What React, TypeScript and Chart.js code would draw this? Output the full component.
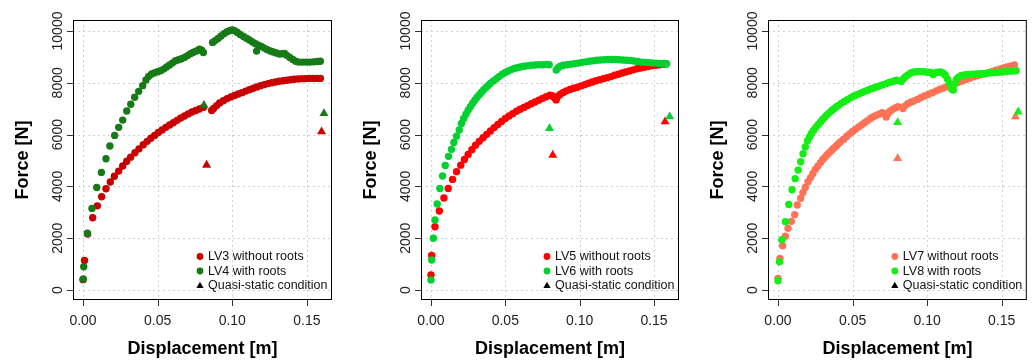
import React, { useEffect, useRef } from 'react';
import { Chart, registerables } from 'chart.js';

Chart.register(...registerables);

type P = [number, number];

const xTicks = [0, 0.05, 0.1, 0.15];
const xTickLabels = ['0.00', '0.05', '0.10', '0.15'];
const yTicks = [0, 2000, 4000, 6000, 8000, 10000];
const yTickLabels = ['0', '2000', '4000', '6000', '8000', '10000'];
const xTitle = 'Displacement [m]';
const yTitle = 'Force [N]';
const quasiLabel = 'Quasi-static condition';

const lv3: P[] = [
  [0.0000, 400], [0.0010, 1140], [0.0031, 2160], [0.0065, 2790], [0.0096, 3250], [0.0125, 3600],
  [0.0154, 3910], [0.0183, 4170], [0.0210, 4390], [0.0239, 4590], [0.0266, 4790], [0.0293, 4970],
  [0.0319, 5130], [0.0348, 5300], [0.0375, 5450], [0.0404, 5610], [0.0430, 5740], [0.0455, 5860],
  [0.0480, 5970], [0.0505, 6080], [0.0530, 6180], [0.0555, 6280], [0.0580, 6370], [0.0605, 6460],
  [0.0630, 6550], [0.0655, 6640], [0.0680, 6720], [0.0705, 6800], [0.0730, 6870], [0.0755, 6930],
  [0.0780, 6990], [0.0806, 7050], [0.0862, 6930], [0.0875, 7010], [0.0895, 7120], [0.0915, 7220],
  [0.0940, 7310], [0.0965, 7390], [0.0990, 7450], [0.1015, 7510], [0.1040, 7570], [0.1065, 7620],
  [0.1090, 7680], [0.1115, 7730], [0.1140, 7790], [0.1165, 7840], [0.1190, 7890], [0.1215, 7930],
  [0.1240, 7970], [0.1265, 8000], [0.1290, 8030], [0.1315, 8060], [0.1340, 8080], [0.1365, 8100],
  [0.1390, 8120], [0.1415, 8140], [0.1440, 8150], [0.1465, 8160], [0.1490, 8160], [0.1515, 8170],
  [0.1540, 8170], [0.1565, 8170], [0.1590, 8170],
];

const lv4: P[] = [
  [0.0002, 425], [0.0005, 900], [0.0029, 2190], [0.0060, 3150], [0.0092, 3960], [0.0123, 4540],
  [0.0154, 5070], [0.0180, 5560], [0.0212, 5970], [0.0239, 6280], [0.0266, 6560], [0.0293, 6910],
  [0.0320, 7170], [0.0346, 7440], [0.0373, 7670], [0.0400, 7890], [0.0422, 8110], [0.0440, 8250],
  [0.0460, 8340], [0.0480, 8390], [0.0500, 8430], [0.0520, 8470], [0.0540, 8530], [0.0560, 8610],
  [0.0580, 8690], [0.0600, 8770], [0.0620, 8850], [0.0640, 8890], [0.0660, 8930], [0.0680, 8980],
  [0.0700, 9050], [0.0720, 9120], [0.0740, 9180], [0.0760, 9230], [0.0780, 9300], [0.0795, 9260],
  [0.0806, 9170], [0.0868, 9560], [0.0885, 9630], [0.0905, 9710], [0.0925, 9810], [0.0945, 9900],
  [0.0965, 9970], [0.0985, 10020], [0.1000, 10040], [0.1015, 10010], [0.1035, 9940], [0.1055, 9860],
  [0.1075, 9790], [0.1095, 9720], [0.1115, 9650], [0.1135, 9580], [0.1155, 9510], [0.1163, 9225],
  [0.1175, 9450], [0.1195, 9400], [0.1215, 9340], [0.1235, 9280], [0.1255, 9230], [0.1275, 9190],
  [0.1295, 9150], [0.1315, 9110], [0.1335, 9120], [0.1350, 9130], [0.1365, 9060], [0.1385, 8980],
  [0.1405, 8900], [0.1425, 8830], [0.1445, 8800], [0.1470, 8800], [0.1495, 8800], [0.1520, 8800],
  [0.1545, 8810], [0.1570, 8820], [0.1590, 8830],
];

const lv5: P[] = [
  [0.0000, 580], [0.0005, 1330], [0.0027, 2440], [0.0056, 3050], [0.0087, 3550], [0.0116, 3920],
  [0.0145, 4270], [0.0172, 4570], [0.0200, 4820], [0.0225, 5040], [0.0250, 5230], [0.0275, 5420],
  [0.0300, 5590], [0.0325, 5740], [0.0350, 5880], [0.0375, 6010], [0.0400, 6140], [0.0425, 6270],
  [0.0450, 6390], [0.0475, 6510], [0.0500, 6620], [0.0525, 6720], [0.0550, 6810], [0.0575, 6900],
  [0.0600, 6980], [0.0625, 7050], [0.0650, 7120], [0.0675, 7190], [0.0700, 7260], [0.0725, 7330],
  [0.0750, 7400], [0.0775, 7460], [0.0800, 7520], [0.0815, 7500], [0.0830, 7420], [0.0842, 7340],
  [0.0855, 7480], [0.0870, 7560], [0.0890, 7630], [0.0910, 7690], [0.0935, 7740], [0.0960, 7790],
  [0.0985, 7830], [0.1010, 7880], [0.1035, 7930], [0.1060, 7980], [0.1085, 8030], [0.1110, 8080],
  [0.1135, 8120], [0.1160, 8160], [0.1185, 8200], [0.1210, 8240], [0.1235, 8290], [0.1260, 8330],
  [0.1285, 8380], [0.1310, 8420], [0.1335, 8460], [0.1360, 8500], [0.1385, 8540], [0.1410, 8570],
  [0.1435, 8600], [0.1460, 8630], [0.1485, 8660], [0.1510, 8680], [0.1535, 8700], [0.1560, 8720],
  [0.1580, 8730],
];

const lv6: P[] = [
  [0.0000, 390], [0.0005, 1160], [0.0016, 2000], [0.0027, 2700], [0.0042, 3320], [0.0060, 3920],
  [0.0078, 4400], [0.0096, 4810], [0.0118, 5160], [0.0138, 5430], [0.0154, 5700], [0.0172, 5940],
  [0.0190, 6180], [0.0205, 6430], [0.0220, 6620], [0.0235, 6790], [0.0250, 6940], [0.0265, 7080],
  [0.0280, 7210], [0.0295, 7330], [0.0310, 7440], [0.0325, 7540], [0.0340, 7640], [0.0355, 7730],
  [0.0370, 7820], [0.0385, 7900], [0.0400, 7980], [0.0420, 8070], [0.0440, 8160], [0.0460, 8250],
  [0.0480, 8330], [0.0500, 8400], [0.0520, 8460], [0.0540, 8510], [0.0560, 8550], [0.0580, 8580],
  [0.0600, 8610], [0.0625, 8640], [0.0650, 8660], [0.0675, 8680], [0.0700, 8690], [0.0725, 8700],
  [0.0750, 8700], [0.0775, 8710], [0.0795, 8700], [0.0842, 8490], [0.0855, 8580], [0.0870, 8640],
  [0.0890, 8680], [0.0915, 8700], [0.0940, 8720], [0.0965, 8740], [0.0990, 8760], [0.1015, 8790],
  [0.1040, 8810], [0.1065, 8830], [0.1090, 8850], [0.1115, 8870], [0.1140, 8880], [0.1165, 8890],
  [0.1190, 8900], [0.1215, 8900], [0.1240, 8900], [0.1265, 8890], [0.1290, 8880], [0.1315, 8870],
  [0.1340, 8860], [0.1365, 8840], [0.1390, 8820], [0.1415, 8800], [0.1440, 8790], [0.1465, 8780],
  [0.1490, 8770], [0.1515, 8760], [0.1540, 8750], [0.1565, 8750], [0.1585, 8740],
];

const lv7: P[] = [
  [0.0000, 450], [0.0013, 1220], [0.0031, 1710], [0.0049, 2080], [0.0067, 2380], [0.0089, 2650],
  [0.0112, 2910], [0.0129, 3280], [0.0152, 3540], [0.0167, 3760], [0.0183, 3960], [0.0201, 4180],
  [0.0218, 4340], [0.0234, 4500], [0.0250, 4650], [0.0268, 4790], [0.0285, 4920], [0.0300, 5040],
  [0.0315, 5130], [0.0330, 5220], [0.0345, 5310], [0.0360, 5400], [0.0375, 5480], [0.0390, 5560],
  [0.0405, 5650], [0.0420, 5730], [0.0440, 5820], [0.0460, 5930], [0.0480, 6030], [0.0500, 6120],
  [0.0520, 6210], [0.0540, 6290], [0.0560, 6370], [0.0580, 6460], [0.0600, 6540], [0.0620, 6620],
  [0.0640, 6690], [0.0660, 6750], [0.0680, 6800], [0.0700, 6850], [0.0715, 6800], [0.0725, 6680],
  [0.0735, 6800], [0.0750, 6900], [0.0770, 6980], [0.0790, 7040], [0.0804, 7080], [0.0837, 7010],
  [0.0850, 7100], [0.0870, 7190], [0.0890, 7250], [0.0910, 7300], [0.0935, 7360], [0.0960, 7430],
  [0.0985, 7500], [0.1010, 7560], [0.1035, 7620], [0.1060, 7690], [0.1085, 7750], [0.1110, 7800],
  [0.1135, 7850], [0.1160, 7910], [0.1185, 7960], [0.1210, 8020], [0.1235, 8070], [0.1260, 8130],
  [0.1285, 8180], [0.1310, 8230], [0.1335, 8270], [0.1360, 8310], [0.1385, 8340], [0.1410, 8390],
  [0.1435, 8440], [0.1460, 8490], [0.1485, 8530], [0.1510, 8570], [0.1535, 8610], [0.1560, 8650],
  [0.1585, 8690],
];

const lv8: P[] = [
  [0.0000, 360], [0.0010, 1090], [0.0026, 1940], [0.0050, 2640], [0.0072, 3300], [0.0094, 3870],
  [0.0115, 4300], [0.0135, 4630], [0.0152, 4950], [0.0168, 5260], [0.0183, 5520], [0.0198, 5760],
  [0.0212, 5920], [0.0226, 6060], [0.0240, 6180], [0.0255, 6290], [0.0270, 6390], [0.0285, 6490],
  [0.0300, 6590], [0.0315, 6680], [0.0330, 6770], [0.0345, 6850], [0.0360, 6930], [0.0375, 7000],
  [0.0390, 7070], [0.0405, 7130], [0.0425, 7210], [0.0445, 7280], [0.0465, 7350], [0.0485, 7420],
  [0.0505, 7480], [0.0525, 7530], [0.0545, 7580], [0.0565, 7630], [0.0585, 7680], [0.0605, 7720],
  [0.0625, 7770], [0.0645, 7810], [0.0665, 7850], [0.0685, 7890], [0.0705, 7930], [0.0725, 7970],
  [0.0745, 8010], [0.0765, 8040], [0.0785, 8080], [0.0795, 8100], [0.0826, 8050], [0.0840, 8150],
  [0.0855, 8240], [0.0870, 8300], [0.0890, 8380], [0.0910, 8420], [0.0930, 8430], [0.0950, 8430],
  [0.0970, 8430], [0.0990, 8420], [0.1010, 8410], [0.1025, 8400], [0.1040, 8320], [0.1055, 8380],
  [0.1070, 8410], [0.1090, 8420], [0.1105, 8380], [0.1120, 8300], [0.1135, 8150], [0.1150, 7980],
  [0.1165, 7750], [0.1175, 7720], [0.1185, 7950], [0.1195, 8130], [0.1210, 8220], [0.1230, 8280],
  [0.1255, 8310], [0.1280, 8320], [0.1305, 8330], [0.1330, 8340], [0.1355, 8350], [0.1380, 8360],
  [0.1405, 8370], [0.1430, 8390], [0.1455, 8400], [0.1480, 8410], [0.1505, 8420], [0.1530, 8440],
  [0.1555, 8450], [0.1580, 8460], [0.1596, 8470],
];

const quasiLV3: P[] = [[0.0828, 4825], [0.1598, 6110]];
const quasiLV4: P[] = [[0.0810, 7140], [0.1614, 6820]];
const quasiLV5: P[] = [[0.0819, 5210], [0.1574, 6500]];
const quasiLV6: P[] = [[0.0797, 6240], [0.1605, 6690]];
const quasiLV7: P[] = [[0.0802, 5080], [0.1592, 6690]];
const quasiLV8: P[] = [[0.0802, 6470], [0.1610, 6880]];

const panels = [
  {
    left: 0, padL: 73, padR: 12,
    noRoots: lv3, roots: lv4, qNo: quasiLV3, qRoots: quasiLV4,
    labelNo: 'LV3 without roots', labelRoots: 'LV4 with roots',
    colNo: '#C80000', colRoots: '#167A16',
  },
  {
    left: 344, padL: 77, padR: 9,
    noRoots: lv5, roots: lv6, qNo: quasiLV5, qRoots: quasiLV6,
    labelNo: 'LV5 without roots', labelRoots: 'LV6 with roots',
    colNo: '#FF0000', colRoots: '#00D030',
  },
  {
    left: 688, padL: 80, padR: 5,
    noRoots: lv7, roots: lv8, qNo: quasiLV7, qRoots: quasiLV8,
    labelNo: 'LV7 without roots', labelRoots: 'LV8 with roots',
    colNo: '#FF7256', colRoots: '#14EE14',
  },
];

const FONT = '"Liberation Sans", Arial, Helvetica, sans-serif';
const W = 344;
const H = 362;

const toXY = (arr: P[]) => arr.map(([x, y]) => ({ x, y }));

function makePlugin(p: typeof panels[number]) {
  return {
    id: 'rStyle',
    beforeDatasetsDraw(chart: any) {
      const { ctx, chartArea: a, scales } = chart;
      const x = scales.x;
      const y = scales.y;
      ctx.save();
      ctx.strokeStyle = '#d0d0d0';
      ctx.lineWidth = 1;
      ctx.setLineDash([2, 3]);
      xTicks.forEach((v) => {
        const px = Math.round(x.getPixelForValue(v)) + 0.5;
        ctx.beginPath();
        ctx.moveTo(px, a.top);
        ctx.lineTo(px, a.bottom);
        ctx.stroke();
      });
      yTicks.forEach((v) => {
        const py = Math.round(y.getPixelForValue(v)) + 0.5;
        ctx.beginPath();
        ctx.moveTo(a.left, py);
        ctx.lineTo(a.right, py);
        ctx.stroke();
      });
      ctx.restore();
    },
    afterDatasetsDraw(chart: any) {
      const { ctx, chartArea: a, scales } = chart;
      const x = scales.x;
      const y = scales.y;
      ctx.save();
      // box
      ctx.strokeStyle = '#000';
      ctx.lineWidth = 1;
      ctx.setLineDash([]);
      ctx.strokeRect(a.left + 0.5, a.top + 0.5, a.right - a.left - 1, a.bottom - a.top - 1);
      // ticks
      ctx.strokeStyle = '#333';
      xTicks.forEach((v) => {
        const px = Math.round(x.getPixelForValue(v)) + 0.5;
        ctx.beginPath();
        ctx.moveTo(px, a.bottom);
        ctx.lineTo(px, a.bottom + 6);
        ctx.stroke();
      });
      yTicks.forEach((v) => {
        const py = Math.round(y.getPixelForValue(v)) + 0.5;
        ctx.beginPath();
        ctx.moveTo(a.left - 6, py);
        ctx.lineTo(a.left, py);
        ctx.stroke();
      });
      // tick labels
      ctx.fillStyle = '#222';
      ctx.font = `14px ${FONT}`;
      ctx.textAlign = 'center';
      ctx.textBaseline = 'alphabetic';
      xTicks.forEach((v, i) => {
        ctx.fillText(xTickLabels[i], x.getPixelForValue(v), a.bottom + 25);
      });
      yTicks.forEach((v, i) => {
        ctx.save();
        ctx.translate(a.left - 11, y.getPixelForValue(v));
        ctx.rotate(-Math.PI / 2);
        ctx.fillText(yTickLabels[i], 0, 0);
        ctx.restore();
      });
      // titles
      ctx.fillStyle = '#000';
      ctx.font = `bold 18px ${FONT}`;
      ctx.fillText(xTitle, (a.left + a.right) / 2, a.bottom + 54);
      ctx.save();
      ctx.translate(a.left - 45, (a.top + a.bottom) / 2);
      ctx.rotate(-Math.PI / 2);
      ctx.fillText(yTitle, 0, 0);
      ctx.restore();
      // legend
      const mx = a.right - 132;
      const tx = a.right - 124;
      const rows = [a.bottom - 43.5, a.bottom - 29, a.bottom - 14.5];
      ctx.font = `12.5px ${FONT}`;
      ctx.textAlign = 'left';
      ctx.textBaseline = 'middle';
      ctx.fillStyle = p.colNo;
      ctx.beginPath();
      ctx.arc(mx, rows[0], 3.4, 0, Math.PI * 2);
      ctx.fill();
      ctx.fillStyle = p.colRoots;
      ctx.beginPath();
      ctx.arc(mx, rows[1], 3.4, 0, Math.PI * 2);
      ctx.fill();
      ctx.fillStyle = '#000';
      ctx.beginPath();
      ctx.moveTo(mx, rows[2] - 3.8);
      ctx.lineTo(mx + 3.6, rows[2] + 2.6);
      ctx.lineTo(mx - 3.6, rows[2] + 2.6);
      ctx.closePath();
      ctx.fill();
      ctx.fillStyle = '#111';
      ctx.fillText(p.labelNo, tx, rows[0] + 0.5);
      ctx.fillText(p.labelRoots, tx, rows[1] + 0.5);
      ctx.fillText(quasiLabel, tx, rows[2] + 0.5);
      ctx.restore();
    },
  };
}

function Panel({ p }: { p: typeof panels[number] }) {
  const ref = useRef<HTMLCanvasElement>(null);
  useEffect(() => {
    if (!ref.current) return;
    const dot = (data: P[], color: string, order: number) => ({
      data: toXY(data),
      backgroundColor: color,
      borderWidth: 0,
      pointRadius: 3.7,
      pointHoverRadius: 3.7,
      pointStyle: 'circle',
      order,
    });
    const tri = (data: P[], color: string, order: number) => ({
      data: toXY(data),
      backgroundColor: color,
      borderWidth: 0,
      pointRadius: 5.2,
      pointHoverRadius: 5.2,
      pointStyle: 'triangle',
      order,
    });
    const chart = new Chart(ref.current, {
      type: 'scatter',
      data: {
        datasets: [
          dot(p.noRoots, p.colNo, 4),
          dot(p.roots, p.colRoots, 3),
          tri(p.qNo, p.colNo, 2),
          tri(p.qRoots, p.colRoots, 1),
        ] as any,
      },
      options: {
        responsive: false,
        animation: false,
        devicePixelRatio: 1,
        layout: { padding: { left: p.padL, right: p.padR, top: 20, bottom: 62 } },
        scales: {
          x: { type: 'linear', display: false, min: -0.0067, max: 0.1668 },
          y: { type: 'linear', display: false, min: -386, max: 10425 },
        },
        plugins: { legend: { display: false }, tooltip: { enabled: false } },
        events: [],
      },
      plugins: [makePlugin(p)],
    });
    return () => chart.destroy();
  }, [p]);
  return (
    <canvas
      ref={ref}
      width={W}
      height={H}
      style={{ position: 'absolute', left: p.left, top: 0, width: W, height: H }}
    />
  );
}

export default function App() {
  return (
    <div
      style={{
        position: 'absolute',
        left: 0,
        top: 0,
        width: 1032,
        height: 362,
        background: '#fff',
        overflow: 'hidden',
      }}
    >
      {panels.map((p, i) => (
        <Panel key={i} p={p} />
      ))}
    </div>
  );
}
